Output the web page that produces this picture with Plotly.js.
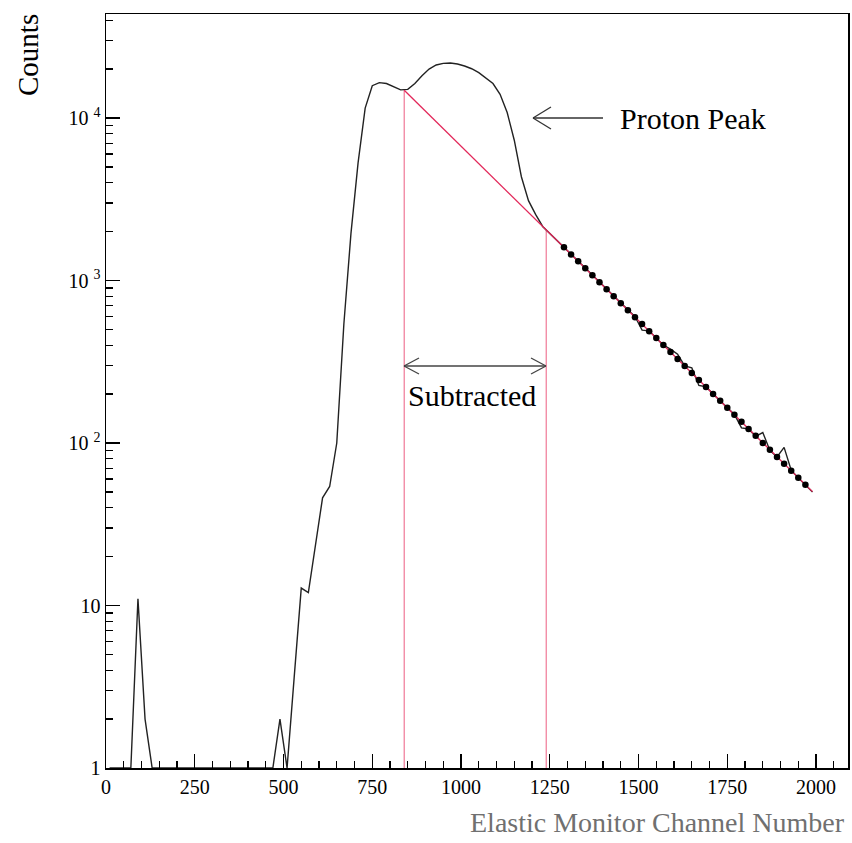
<!DOCTYPE html>
<html>
<head>
<meta charset="utf-8">
<script src="https://cdn.plot.ly/plotly-3.0.1.min.js"></script>
<style>html,body{margin:0;padding:0;background:#fff;}#chart{width:852px;height:843px;}</style>
</head>
<body>
<div id="chart"></div>
<script>
// Histogram bins (channel centres) and counts
const channels = [10,30,50,70,90,110,130,150,170,190,210,230,250,270,290,310,330,350,370,390,410,430,450,
  470,490,510,530,550,570,590,610,630,650,670,690,710,730,750,770,790,810,830,
  850,870,890,910,930,950,970,990,1010,1030,1050,1070,1090,1110,1130,1150,1170,1190,1210,1230,1250,
  1270,1290,1310,1330,1350,1370,1390,1410,1430,1450,1470,1490,1510,1530,1550,1570,1590,1610,1630,1650,
  1670,1690,1710,1730,1750,1770,1790,1810,1830,1850,1870,1890,1910,1930,1950,1970,1990];
const counts = [1,1,1,1,11,2,1,1,1,1,1,1,1,1,1,1,1,1,1,1,1,1,1,
  1,2,1,3.6,12.8,12,23,46,54,100,540,1950,5300,11500,15800,16500,16300,15500,14900,
  15000,16300,18200,20000,21200,21700,21800,21500,20900,20100,19000,17700,16300,14000,10800,7300,4350,3100,2550,2150,1950,
  1760,1600,1450,1310,1190,1075,975,885,800,725,665,600,495,490,442,400,378,352,298,290,
  226,222,200,182,165,150,124,122,110,116,90,82,94,68,61,55,50];

// Exponential background fit (straight on log scale)
const fitX = [840, 1990];
const fitY = [14800, 50.2];

// Fitted values shown as dots
const dotX = [1290,1310,1330,1350,1370,1390,1410,1430,1450,1470,1490,1510,1530,1550,1570,1590,1610,1630,1650,
  1670,1690,1710,1730,1750,1770,1790,1810,1830,1850,1870,1890,1910,1930,1950,1970];
const dotY = [1599,1448,1312,1189,1077,975,884,800,725,657,595,539,488,442,401,363,329,298,270,
  244,221,200,182,165,149,135,122,111,100,91,82,74.6,67.6,61.2,55.4];

// Subtraction window boundaries
const boundX = [840, 1240];
const boundTop = [14800, 2050];
const boundBottom = 1;

const xTickVals = [0,250,500,750,1000,1250,1500,1750,2000];
const yTickVals = [1,10,100,1000,10000];
const yTickText = ['1','10','10 <sup>2</sup>','10 <sup>3</sup>','10 <sup>4</sup>'];

const serif = "'Liberation Serif', 'Times New Roman', serif";

const traces = [
  {
    x: [boundX[0], boundX[0], null, boundX[1], boundX[1]],
    y: [boundBottom, boundTop[0], null, boundBottom, boundTop[1]],
    mode: 'lines', line: {color: 'rgb(240,120,150)', width: 1.2},
    hoverinfo: 'skip', showlegend: false, connectgaps: false
  },
  {
    x: channels, y: counts, mode: 'lines',
    line: {color: '#222', width: 1.4}, showlegend: false
  },
  {
    x: fitX, y: fitY, mode: 'lines',
    line: {color: 'rgb(226,40,90)', width: 1.3}, showlegend: false
  },
  {
    x: dotX, y: dotY, mode: 'markers',
    marker: {color: '#000', size: 6.5}, showlegend: false
  }
];

const PL = 106, PR = 848, PT = 14, PB = 768;
const px = v => (v - PL) / (PR - PL);
const py = v => (PB - v) / (PB - PT);
function seg(x0, y0, x1, y1, color) {
  return {type: 'line', xref: 'paper', yref: 'paper', x0: px(x0), y0: py(y0), x1: px(x1), y1: py(y1),
          line: {color: color, width: 1.3}};
}

const arrowColor = '#333';
const shapes = [
  // Proton Peak arrow
  seg(533, 118, 603, 118, arrowColor),
  seg(533, 118, 551, 107, arrowColor),
  seg(533, 118, 551, 129, arrowColor),
  // Subtracted double arrow
  seg(404, 366, 546, 366, '#444'),
  seg(404, 366, 419, 358, '#444'),
  seg(404, 366, 419, 374, '#444'),
  seg(546, 366, 531, 358, '#444'),
  seg(546, 366, 531, 374, '#444')
];

const layout = {
  width: 852, height: 843,
  margin: {l: PL, r: 852 - PR, t: PT, b: 843 - PB},
  paper_bgcolor: '#fff', plot_bgcolor: '#fff',
  font: {family: serif, color: '#000', size: 20},
  xaxis: {
    range: [0, 2090], showgrid: false, zeroline: false,
    showline: true, linecolor: '#000', linewidth: 1.5, mirror: true,
    ticks: 'inside', ticklen: 14, tickwidth: 1.3, tickcolor: '#000',
    tickvals: xTickVals, ticktext: xTickVals.map(String),
    minor: {dtick: 50, tick0: 0, ticks: 'inside', ticklen: 7, tickwidth: 1.2, tickcolor: '#000', showgrid: false},
    tickfont: {family: serif, size: 20, color: '#000'}
  },
  yaxis: {
    type: 'log', range: [0, 4.64], showgrid: false, zeroline: false,
    showline: true, linecolor: '#000', linewidth: 1.5, mirror: true,
    ticks: 'inside', ticklen: 14, tickwidth: 1.3, tickcolor: '#000',
    tickvals: yTickVals, ticktext: yTickText,
    minor: {dtick: 'D1', ticks: 'inside', ticklen: 7, tickwidth: 1.2, tickcolor: '#000', showgrid: false},
    tickfont: {family: serif, size: 20, color: '#000'}
  },
  shapes: shapes,
  annotations: [
    {xref: 'paper', yref: 'paper', x: px(28), y: py(55), text: 'Counts', textangle: -90,
     showarrow: false, xanchor: 'center', yanchor: 'middle', font: {family: serif, size: 29, color: '#000'}},
    {xref: 'paper', yref: 'paper', x: px(847), y: py(822), text: 'Elastic Monitor Channel Number',
     showarrow: false, xanchor: 'right', yanchor: 'middle', font: {family: serif, size: 28, color: '#707070'}},
    {xref: 'paper', yref: 'paper', x: px(618), y: py(118), text: 'Proton Peak',
     showarrow: false, xanchor: 'left', yanchor: 'middle', font: {family: serif, size: 30, color: '#000'}},
    {xref: 'paper', yref: 'paper', x: px(472), y: py(396), text: 'Subtracted',
     showarrow: false, xanchor: 'center', yanchor: 'middle', font: {family: serif, size: 30, color: '#000'}}
  ]
};

Plotly.newPlot('chart', traces, layout, {displayModeBar: false, staticPlot: true});
</script>
</body>
</html>
